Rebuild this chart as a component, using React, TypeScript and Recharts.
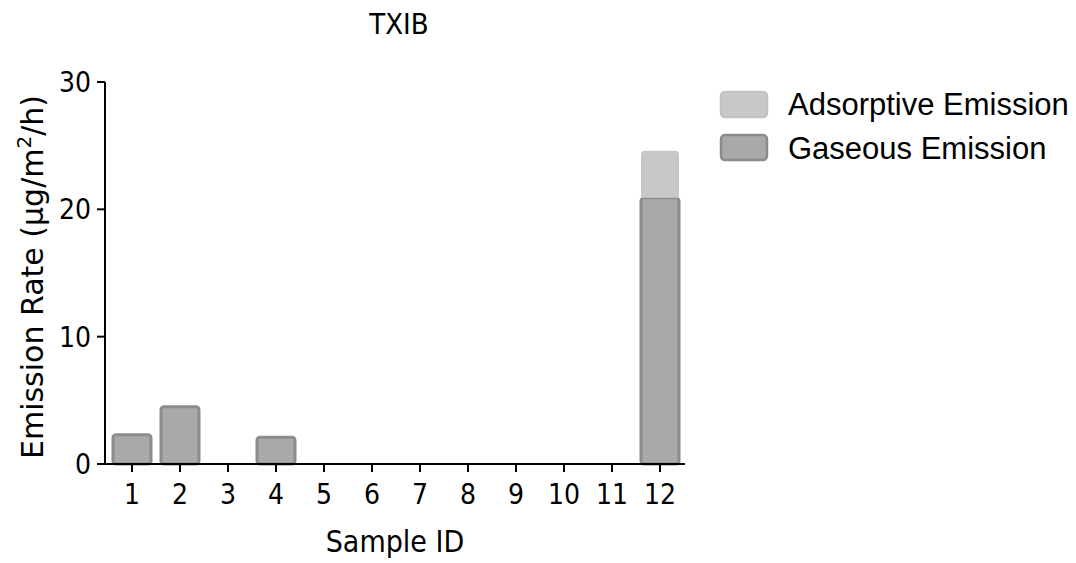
import React from "react";
import { BarChart, Bar, XAxis, YAxis, Label } from "recharts";

const sampleIds = ["1", "2", "3", "4", "5", "6", "7", "8", "9", "10", "11", "12"];
const gaseous = [2.3, 4.5, 0, 2.1, 0, 0, 0, 0, 0, 0, 0, 20.9];
const adsorptive = [0, 0, 0, 0, 0, 0, 0, 0, 0, 0, 0, 3.7];
const yTicks = [0, 10, 20, 30];
const legendItems = [
  { label: "Adsorptive Emission", fill: "#c8c8c8", stroke: "#c2c2c2" },
  { label: "Gaseous Emission", fill: "#a9a9a9", stroke: "#8a8a8a" },
];

const data = sampleIds.map((id, i) => ({ id, gaseous: gaseous[i], adsorptive: adsorptive[i] }));

const COND = "'DejaVu Sans Condensed', 'DejaVu Sans', sans-serif";
const WIDE = "'DejaVu Sans', Verdana, sans-serif";
const ARIAL = "'Liberation Sans', Arial, sans-serif";
const tickStyle = { fontFamily: COND, fontSize: 28, fill: "#000", fontStretch: "condensed" } as any;

const YLabel = () => {
  const cx = 43;
  const cy = 277;
  return (
    <text
      x={cx}
      y={cy}
      transform={`rotate(-90 ${cx} ${cy})`}
      textAnchor="middle"
      fontFamily={WIDE}
      fontSize={30}
      fill="#000"
    >
      Emission Rate (μg/m<tspan dy={-12} fontSize={20}>2</tspan>
      <tspan dy={12}>/h)</tspan>
    </text>
  );
};

const XLabel = ({ viewBox }: any) => (
  <text
    x={viewBox.x + viewBox.width / 2}
    y={552}
    textAnchor="middle"
    fontFamily={COND}
    fontSize={30}
    style={{ fontStretch: "condensed" }}
    fill="#000"
  >
    Sample ID
  </text>
);

export default function App() {
  return (
    <div style={{ position: "absolute", left: 0, top: 0, width: 1076, height: 563, background: "#fff" }}>
      <BarChart
        width={1076}
        height={563}
        data={data}
        margin={{ top: 82, right: 391, left: 0, bottom: 0 }}
        barSize={38}
      >
        <XAxis
          dataKey="id"
          height={99}
          interval={0}
          padding={{ left: 3, right: 1 }}
          tickSize={8}
          tickLine={{ stroke: "#000", strokeWidth: 2 }}
          axisLine={{ stroke: "#000", strokeWidth: 2 }}
          tick={tickStyle}
          tickMargin={12}
        >
          <Label content={<XLabel />} />
        </XAxis>
        <YAxis
          width={105}
          domain={[0, 30]}
          ticks={yTicks}
          interval={0}
          tickSize={8}
          tickLine={{ stroke: "#000", strokeWidth: 2 }}
          axisLine={{ stroke: "#000", strokeWidth: 2 }}
          tick={tickStyle}
          tickMargin={6}
        >
          <Label content={<YLabel />} />
        </YAxis>
        <Bar
          dataKey="gaseous"
          stackId="a"
          fill="#a9a9a9"
          stroke="#8c8c8c"
          strokeWidth={3}
          radius={3}
          isAnimationActive={false}
        />
        <Bar
          dataKey="adsorptive"
          stackId="a"
          fill="#c8c8c8"
          radius={[4, 4, 0, 0]}
          isAnimationActive={false}
        />
      </BarChart>
      <svg width={1076} height={563} style={{ position: "absolute", left: 0, top: 0, pointerEvents: "none" }}>
        <text
          x={399}
          y={34}
          textAnchor="middle"
          fontFamily={COND}
          fontSize={29}
          style={{ fontStretch: "condensed" }}
          fill="#000"
        >
          TXIB
        </text>
        {legendItems.map((it, i) => (
          <g key={it.label}>
            <rect
              x={721}
              y={92 + i * 43}
              width={46}
              height={25}
              rx={4}
              fill={it.fill}
              stroke={it.stroke}
              strokeWidth={2.5}
            />
            <text x={788} y={115 + i * 44} fontFamily={ARIAL} fontSize={31} fill="#000">
              {it.label}
            </text>
          </g>
        ))}
      </svg>
    </div>
  );
}
